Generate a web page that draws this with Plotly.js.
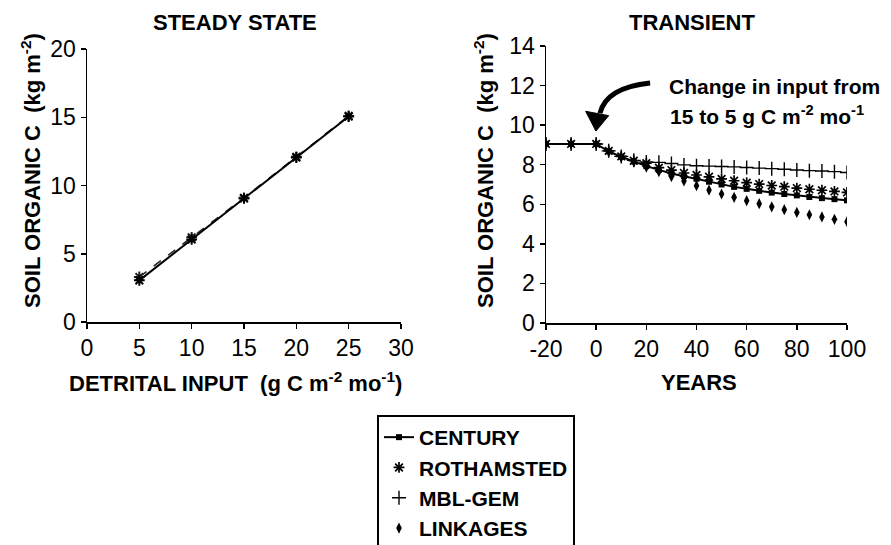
<!DOCTYPE html>
<html>
<head>
<meta charset="utf-8">
<script src="https://cdn.plot.ly/plotly-3.0.1.min.js"></script>
<style>html,body{margin:0;padding:0;background:#fff;}#chart{width:891px;height:545px;}</style>
</head>
<body>
<div id="chart"></div>
<script>
// ---------- DATA ----------
// Steady state panel
const ssInput = [5, 10, 15, 20, 25];
const ssCentury = [3.05, 6.05, 9.05, 12.05, 15.05];
const ssRothamsted = [3.3, 6.2, 9.1, 12.1, 15.1];
const ssXTicks = [0, 5, 10, 15, 20, 25, 30];
const ssYTicks = [0, 5, 10, 15, 20];

// Transient panel
const years = [-20, -10, 0, 5, 10, 15, 20, 25, 30, 35, 40, 45, 50, 55, 60, 65, 70, 75, 80, 85, 90, 95, 100];
const century    = [9.05, 9.05, 9.05, 8.68, 8.40, 8.17, 7.93, 7.74, 7.56, 7.42, 7.29, 7.14, 7.00, 6.88, 6.78, 6.68, 6.59, 6.52, 6.45, 6.37, 6.31, 6.26, 6.20];
const rothamsted = [9.05, 9.05, 9.05, 8.70, 8.42, 8.20, 8.08, 7.85, 7.73, 7.58, 7.48, 7.39, 7.28, 7.19, 7.09, 7.02, 6.95, 6.89, 6.82, 6.76, 6.71, 6.65, 6.60];
const mblgem     = [9.05, 9.05, 9.05, 8.70, 8.42, 8.22, 8.14, 8.12, 8.06, 7.99, 7.95, 7.93, 7.91, 7.89, 7.86, 7.83, 7.80, 7.77, 7.73, 7.70, 7.68, 7.65, 7.61];
const linkages   = [9.05, 9.05, 9.05, 8.66, 8.38, 8.15, 7.88, 7.65, 7.40, 7.18, 6.94, 6.72, 6.52, 6.35, 6.18, 6.03, 5.87, 5.73, 5.59, 5.47, 5.36, 5.24, 5.12];
const yearTicks = [-20, 0, 20, 40, 60, 80, 100];
const yearTickLabels = ['-20', '0', '20', '40', '60', '80', '100'];
const socTicks = [0, 2, 4, 6, 8, 10, 12, 14];

const seriesNames = ['CENTURY', 'ROTHAMSTED', 'MBL-GEM', 'LINKAGES'];

// ---------- LAYOUT HELPERS ----------
const W = 891, H = 545;
const px = v => v / W;
const py = v => 1 - v / H;
const FONT = 'Liberation Sans, Arial, Helvetica, sans-serif';

const traces = [
  // steady state
  {x: ssInput, y: ssRothamsted, xaxis: 'x', yaxis: 'y', mode: 'lines+markers', showlegend: false,
   line: {color: '#222', width: 1.5, dash: 'dash'},
   marker: {symbol: 'asterisk-open', size: 9, line: {color: '#000', width: 2}}},
  {x: ssInput, y: ssCentury, xaxis: 'x', yaxis: 'y', mode: 'lines+markers', showlegend: false,
   line: {color: '#000', width: 2},
   marker: {symbol: 'asterisk-open', size: 9, color: '#000', line: {color: '#000', width: 2}}},
  // transient
  {x: years, y: linkages, xaxis: 'x2', yaxis: 'y2', mode: 'markers', name: seriesNames[3],
   marker: {symbol: 'diamond-tall', size: 8, color: '#000'}},
  {x: years, y: mblgem, xaxis: 'x2', yaxis: 'y2', mode: 'markers', name: seriesNames[2],
   marker: {symbol: 'cross-thin-open', size: 10, color: '#000', line: {color: '#000', width: 1.4}}},
  {x: years, y: rothamsted, xaxis: 'x2', yaxis: 'y2', mode: 'markers', name: seriesNames[1],
   marker: {symbol: 'asterisk-open', size: 9, color: '#000', line: {color: '#000', width: 1.7}}},
  {x: years, y: century, xaxis: 'x2', yaxis: 'y2', mode: 'lines+markers', name: seriesNames[0],
   line: {color: '#000', width: 2},
   marker: {symbol: 'square', size: 6, color: '#000'}}
];

const axisCommon = {
  showline: true, linecolor: '#000', linewidth: 1.5,
  ticks: 'outside', ticklen: 5, tickwidth: 1.5, tickcolor: '#000',
  showgrid: false, zeroline: false,
  tickfont: {family: FONT, size: 23, color: '#000'},
  fixedrange: true
};

const titleFont = {family: FONT, size: 22, color: '#000'};
const noteFont = {family: FONT, size: 21, color: '#000'};

const layout = {
  width: W, height: H,
  margin: {l: 0, r: 0, t: 0, b: 0, autoexpand: false},
  paper_bgcolor: '#fff', plot_bgcolor: '#fff',
  font: {family: FONT, color: '#000'},
  xaxis: Object.assign({}, axisCommon, {domain: [px(87), px(401)], range: [0, 30], tickvals: ssXTicks, anchor: 'y'}),
  yaxis: Object.assign({}, axisCommon, {domain: [py(322), py(49)], range: [0, 20], tickvals: ssYTicks, anchor: 'x'}),
  xaxis2: Object.assign({}, axisCommon, {domain: [px(546), px(847)], range: [-20, 100], tickvals: yearTicks, ticktext: yearTickLabels, anchor: 'y2'}),
  yaxis2: Object.assign({}, axisCommon, {domain: [py(323), py(46)], range: [0, 14], tickvals: socTicks, anchor: 'x2'}),
  legend: {
    x: px(377), y: py(415), xanchor: 'left', yanchor: 'top',
    bordercolor: '#000', borderwidth: 2, bgcolor: '#fff',
    font: {family: FONT, size: 21, color: '#000', weight: 'bold'},
    traceorder: 'reversed'
  },
  annotations: [
    {text: '<b>STEADY STATE</b>', xref: 'paper', yref: 'paper', x: px(235), y: py(22), showarrow: false, font: titleFont, xanchor: 'center', yanchor: 'middle'},
    {text: '<b>TRANSIENT</b>', xref: 'paper', yref: 'paper', x: px(692), y: py(22), showarrow: false, font: titleFont, xanchor: 'center', yanchor: 'middle'},
    {text: '<b>SOIL ORGANIC C&nbsp; (kg m<sup>-2</sup>)</b>', xref: 'paper', yref: 'paper', x: px(31), y: py(171), textangle: -90, showarrow: false, font: titleFont, xanchor: 'center', yanchor: 'middle'},
    {text: '<b>SOIL ORGANIC C&nbsp; (kg m<sup>-2</sup>)</b>', xref: 'paper', yref: 'paper', x: px(484), y: py(171), textangle: -90, showarrow: false, font: titleFont, xanchor: 'center', yanchor: 'middle'},
    {text: '<b>DETRITAL INPUT&nbsp; (g C m<sup>-2</sup> mo<sup>-1</sup>)</b>', xref: 'paper', yref: 'paper', x: px(235), y: py(382), showarrow: false, font: titleFont, xanchor: 'center', yanchor: 'middle'},
    {text: '<b>YEARS</b>', xref: 'paper', yref: 'paper', x: px(699), y: py(382), showarrow: false, font: titleFont, xanchor: 'center', yanchor: 'middle'},
    {text: '<b>Change in input from</b>', xref: 'paper', yref: 'paper', x: px(667), y: py(86), showarrow: false, font: noteFont, xanchor: 'left', yanchor: 'middle'},
    {text: '<b>15 to 5 g C m<sup>-2</sup> mo<sup>-1</sup></b>', xref: 'paper', yref: 'paper', x: px(668), y: py(115), showarrow: false, font: noteFont, xanchor: 'left', yanchor: 'middle'}
  ],
  shapes: [
    {type: 'path', xref: 'x2', yref: 'y2', path: 'M 21.5 12.13 Q 4 11.9 1.5 10.6', line: {color: '#000', width: 5}, fillcolor: 'rgba(0,0,0,0)'},
    {type: 'path', xref: 'x2', yref: 'y2', path: 'M -0.1 9.7 L -4.2 10.7 L 5.0 10.48 Z', line: {color: '#000', width: 1}, fillcolor: '#000'}
  ]
};

Plotly.newPlot('chart', traces, layout, {staticPlot: true, displayModeBar: false});
</script>
</body>
</html>
